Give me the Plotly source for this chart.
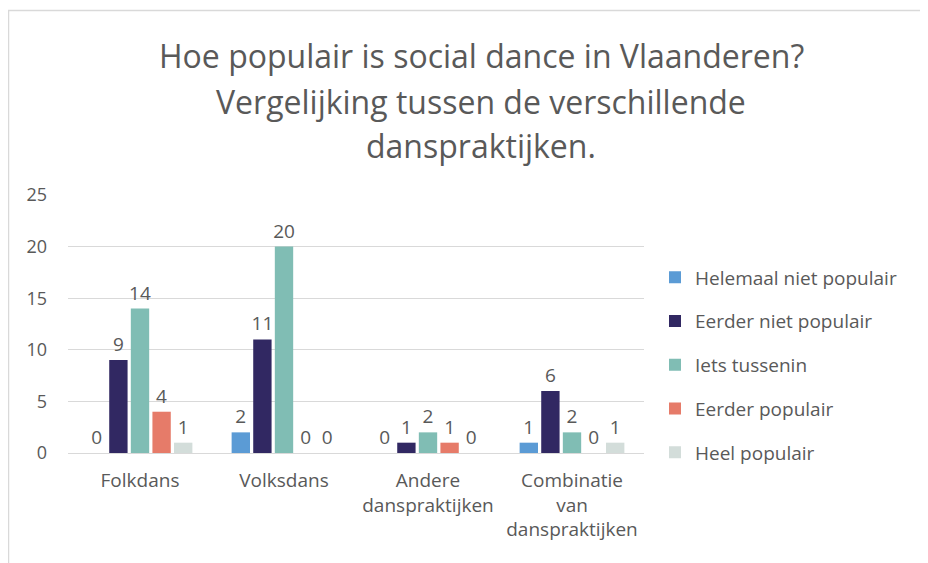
import plotly.graph_objects as go

categories = ["Folkdans", "Volksdans", "Andere<br>danspraktijken", "Combinatie<br>van<br>danspraktijken"]
series_names = ["Helemaal niet populair", "Eerder niet populair", "Iets tussenin", "Eerder populair", "Heel populair"]
helemaal_niet = [0, 2, 0, 1]
eerder_niet = [9, 11, 1, 6]
iets_tussenin = [14, 20, 2, 2]
eerder_populair = [4, 0, 1, 0]
heel_populair = [1, 0, 0, 1]
y_ticks = [0, 5, 10, 15, 20, 25]
title_lines = ["Hoe populair is social dance in Vlaanderen?",
               "Vergelijking tussen de verschillende",
               "danspraktijken."]

series_values = [helemaal_niet, eerder_niet, iets_tussenin, eerder_populair, heel_populair]
colors = ["#5B9BD5", "#312862", "#80BDB4", "#E67B69", "#D3DDDA"]

TXT = "#595959"
FONT = "Open Sans"

fig = go.Figure()
for i, (name, vals) in enumerate(zip(series_names, series_values)):
    fig.add_trace(go.Bar(
        x=categories, y=vals, name=name, marker_color=colors[i],
        marker_line_width=0,
        text=[str(v) for v in vals], textposition="outside",
        constraintext="none",
        textfont=dict(family=FONT, size=19, color=TXT),
        cliponaxis=False, legendgroup=name,
    ))

# page body has an 8px margin, so work in screen pixels and subtract it
OFF = 8
W, H = 920, 555
ml, mt = 68 - OFF, 195 - OFF
mb = H - (453 - OFF)
mr = W - (644 - OFF)
pw, ph = W - ml - mr, H - mt - mb

def sx(px):
    return (px - OFF - ml) / pw

def sy(py):
    return (H - mb - (py - OFF)) / ph

annotations = []
for line, ypx in zip(title_lines, [56, 101, 145]):
    annotations.append(dict(
        text=line, xref="paper", yref="paper",
        x=sx(481), y=sy(ypx),
        xanchor="center", yanchor="middle", showarrow=False,
        font=dict(family=FONT, size=32, color=TXT),
    ))

fig.update_layout(
    width=W, height=H,
    margin=dict(l=ml, r=mr, t=mt, b=mb),
    paper_bgcolor="white", plot_bgcolor="white",
    barmode="group", bargap=0.25, bargroupgap=0.15,
    showlegend=True,
    legend=dict(
        x=sx(655), y=sy(365), xanchor="left", yanchor="middle",
        font=dict(family=FONT, size=19, color=TXT),
        tracegroupgap=16, itemwidth=30,
    ),
    annotations=annotations,
    shapes=[dict(type="rect", xref="paper", yref="paper",
                 x0=sx(8.5), x1=sx(960),
                 y0=sy(600), y1=sy(10.5),
                 line=dict(color="#D9D9D9", width=1.5), fillcolor="rgba(0,0,0,0)",
                 layer="below")],
    xaxis=dict(
        showgrid=False, showline=False, ticks="",
        tickfont=dict(family=FONT, size=19, color=TXT),
        ticklabelstandoff=14,
    ),
    yaxis=dict(
        range=[0, 25], tickvals=y_ticks, showgrid=True, gridcolor="#D9D9D9",
        gridwidth=1, zeroline=True, zerolinecolor="#D9D9D9", zerolinewidth=1,
        showline=False, ticks="", ticklabelstandoff=20,
        tickfont=dict(family=FONT, size=18, color=TXT),
    ),
)

fig.write_html("out.html")
